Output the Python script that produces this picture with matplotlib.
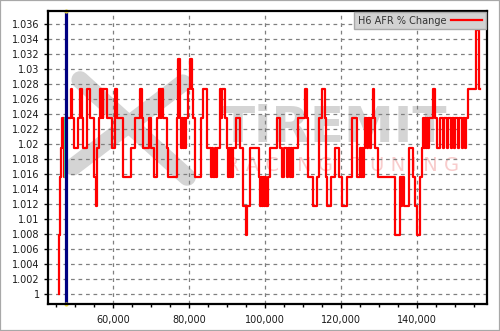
import matplotlib
matplotlib.use("Agg")
import matplotlib.pyplot as plt
from matplotlib.ticker import FuncFormatter, MultipleLocator
from matplotlib.patches import Rectangle
import numpy as np

# ---- data ----
series_name = "H6 AFR % Change"
# step change points (x) and the value held from that point on
x_pts = [45790, 45920, 46050, 46320, 46580, 47110, 47500, 48820, 49210, 49820,
         50870, 51240, 51760, 52110, 53160, 53950, 55000, 55400, 55790, 56320,
         56580, 56840, 56970, 57370, 57500, 58420, 59740, 60530, 61050, 62630,
         64740, 65790, 67110, 67630, 67900, 69470, 70000, 70790, 71580, 72110,
         72500, 72630, 73160, 74210, 74470, 76840, 77110, 77630, 77900, 78160,
         78420, 78680, 78950, 79210, 79740, 80260, 80790, 80920, 81500, 83080,
         83760, 84660, 84820, 85710, 86050, 86320, 86840, 87110, 87450, 88160,
         88420, 88690, 89550, 90080, 90260, 90530, 90790, 91050, 91320, 91660,
         92370, 93420, 94290, 94870, 95130, 96050, 98500, 98690, 98950, 99210,
         99470, 99740, 100000, 100260, 100790, 101320, 103160, 103870, 104470, 105000,
         105710, 105920, 106580, 106840, 107110, 107370, 108760, 110530, 111130, 111400,
         112710, 113610, 114290, 114920, 115790, 116050, 116320, 117290, 118420, 119470,
         120190, 121660, 122900, 124210, 125000, 125260, 125530, 125790, 126050, 126320,
         126840, 127110, 127630, 127900, 128340, 128760, 128950, 129740, 134210, 135530,
         135790, 136050, 136580, 137970, 138950, 139470, 140080, 140790, 141240, 141450,
         141710, 141970, 142240, 142500, 142900, 143160, 144130, 144740, 145260, 146050,
         146840, 147110, 147900, 148160, 148950, 149210, 149740, 150000, 150790, 151050,
         151840, 152110, 152630, 152900, 153420, 155450, 156320, 156450]
y_pts = [1.0, 1.0078, 1.0156, 1.0195, 1.0234, 1.0156, 1.0234, 1.0273, 1.0234, 1.0195,
         1.0234, 1.0273, 1.0234, 1.0195, 1.0273, 1.0234, 1.0156, 1.0117, 1.0195, 1.0234,
         1.0273, 1.0234, 1.0273, 1.0234, 1.0273, 1.0234, 1.0195, 1.0273, 1.0234, 1.0156,
         1.0195, 1.0234, 1.0273, 1.0234, 1.0195, 1.0234, 1.0195, 1.0156, 1.0234, 1.0273,
         1.0234, 1.0273, 1.0234, 1.0195, 1.0156, 1.0234, 1.0313, 1.0234, 1.0195, 1.0234,
         1.0195, 1.0234, 1.0195, 1.0234, 1.0273, 1.0313, 1.0273, 1.0234, 1.0156, 1.0234,
         1.0273, 1.0234, 1.0195, 1.0156, 1.0195, 1.0156, 1.0195, 1.0156, 1.0195, 1.0273,
         1.0234, 1.0273, 1.0234, 1.0195, 1.0156, 1.0195, 1.0156, 1.0195, 1.0156, 1.0195,
         1.0234, 1.0195, 1.0117, 1.0078, 1.0117, 1.0195, 1.0156, 1.0117, 1.0156, 1.0117,
         1.0156, 1.0117, 1.0156, 1.0117, 1.0156, 1.0195, 1.0234, 1.0195, 1.0156, 1.0195,
         1.0156, 1.0195, 1.0156, 1.0195, 1.0156, 1.0195, 1.0234, 1.0273, 1.0234, 1.0156,
         1.0117, 1.0156, 1.0234, 1.0273, 1.0234, 1.0156, 1.0117, 1.0156, 1.0195, 1.0156,
         1.0117, 1.0156, 1.0234, 1.0156, 1.0195, 1.0156, 1.0195, 1.0156, 1.0195, 1.0234,
         1.0195, 1.0234, 1.0195, 1.0234, 1.0273, 1.0234, 1.0195, 1.0156, 1.0078, 1.0156,
         1.0117, 1.0156, 1.0117, 1.0195, 1.0156, 1.0117, 1.0078, 1.0156, 1.0195, 1.0234,
         1.0195, 1.0234, 1.0195, 1.0234, 1.0195, 1.0234, 1.0273, 1.0234, 1.0195, 1.0234,
         1.0195, 1.0234, 1.0195, 1.0234, 1.0195, 1.0234, 1.0195, 1.0234, 1.0195, 1.0234,
         1.0195, 1.0234, 1.0195, 1.0234, 1.0273, 1.0352, 1.0273, 1.0273]

cursor_x = 47550
green_x = 47290
green_y = [1.0156, 1.0234]

x_ticks = [60000, 80000, 100000, 120000, 140000]
y_ticks = [1.0, 1.002, 1.004, 1.006, 1.008, 1.01, 1.012, 1.014, 1.016, 1.018,
           1.02, 1.022, 1.024, 1.026, 1.028, 1.03, 1.032, 1.034, 1.036]
x_range = [42900, 158400]
y_range = [0.99867, 1.0377]

# ---- figure ----
fig = plt.figure(figsize=(5.0, 3.31), dpi=100)
fig.patch.set_facecolor("white")
fig.patches.append(Rectangle((0, 0), 1, 1, transform=fig.transFigure,
                             fill=False, edgecolor="#a8a8a8", lw=1.6))
ax = fig.add_axes([0.096, 0.0816, 0.878, 0.8852])
ax.set_xlim(*x_range)
ax.set_ylim(*y_range)

# watermark
wm_t = ax.transAxes
ax.plot([0.073, 0.317], [0.765, 0.433], color="#d4d4d4", lw=12.5,
        solid_capstyle="round", transform=wm_t, zorder=0.1)
ax.plot([0.057, 0.307], [0.468, 0.754], color="#d4d4d4", lw=12.5,
        solid_capstyle="round", transform=wm_t, zorder=0.1)
ax.text(0.651, 0.60, "TiREMIT", transform=wm_t, ha="center", va="center",
        fontsize=36, fontweight="bold", color="#d4d4d4", zorder=0.1)
ax.text(0.672, 0.474, "R A C I N G   T U N I N G", transform=wm_t, ha="center",
        va="center", fontsize=14, color="#f8cccc", zorder=0.1)

# grid
ax.grid(True, which="major", color="#808080", linestyle=(0, (3, 3)), lw=0.9,
        zorder=1)

# data
xs = x_pts
ys = y_pts
ax.step(xs, ys, where="post", color="#ff0000", lw=1.6, label=series_name, zorder=3)
ax.plot([green_x, green_x], green_y, color="#33ee88", lw=1.3, zorder=4)
ax.axvline(cursor_x, color="#000080", lw=2.3, zorder=5)
ax.plot([cursor_x, cursor_x], [y_range[0], y_range[1]], ls="none", marker="o",
        ms=2, color="#f0e040", zorder=6, clip_on=False)

# axes styling
for s in ax.spines.values():
    s.set_color("black")
    s.set_linewidth(1.6)
    s.set_zorder(7)
ax.set_xticks(x_ticks)
ax.xaxis.set_minor_locator(MultipleLocator(5000))
ax.set_yticks(y_ticks)
ax.xaxis.set_major_formatter(FuncFormatter(lambda v, p: f"{int(round(v)):,}"))
ax.yaxis.set_major_formatter(
    FuncFormatter(lambda v, p: (f"{v:.3f}".rstrip("0").rstrip("."))))
ax.tick_params(axis="both", which="major", length=3, width=1, color="black",
               labelsize=7, labelcolor="#1a1a1a", direction="out")
ax.tick_params(axis="x", which="minor", length=2, width=1, color="black",
               direction="out")
ax.tick_params(axis="x", pad=5)
ax.tick_params(axis="y", pad=3)

leg = ax.legend(loc="upper right", borderaxespad=0.15, fancybox=False,
                framealpha=1, fontsize=7, markerfirst=False, handlelength=3.2,
                borderpad=0.35, handletextpad=0.5)
leg.get_frame().set_facecolor("#d2d2d2")
leg.get_frame().set_edgecolor("#a8a8a8")
leg.get_frame().set_linewidth(1.0)
leg.set_zorder(8)
for t in leg.get_texts():
    t.set_color("#333333")

fig.savefig("out.png", dpi=100)
